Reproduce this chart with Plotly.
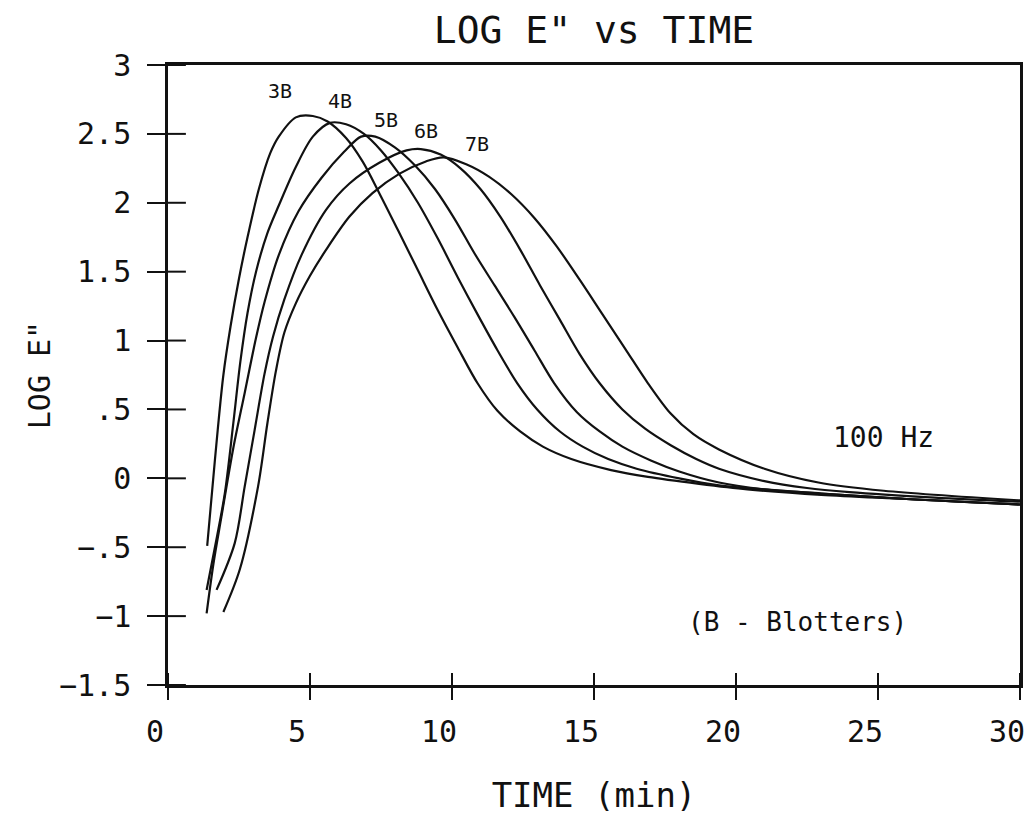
import plotly.graph_objects as go

# ---- data: log E'' (100 Hz) against time for 3..7 blotters ----
t_3b = [1.38, 1.55, 1.75, 1.95, 2.2, 2.5, 2.8, 3.2, 3.6, 3.9, 4.5, 5.1, 5.62, 6.27, 6.85, 7.44,
        8.1, 8.8, 9.5, 10.2, 10.9, 11.6, 12.4, 13.2, 14.2, 15.6, 16.9, 18.7, 20.4, 23, 26, 30]
e_3b = [-0.49, -0.10, 0.35, 0.75, 1.10, 1.45, 1.75, 2.10, 2.36, 2.48, 2.62, 2.63, 2.59, 2.47, 2.30, 2.07,
        1.80, 1.51, 1.22, 0.95, 0.69, 0.49, 0.34, 0.23, 0.14, 0.06, 0.01, -0.04, -0.08, -0.12, -0.15, -0.19]

t_4b = [1.36, 1.7, 2.0, 2.3, 2.55, 2.8, 3.1, 3.5, 3.9, 4.5, 5.1, 5.7, 6.27, 6.9, 7.5, 8.1, 8.8,
        9.5, 10.2, 10.9, 11.6, 12.3, 13.0, 13.8, 14.6, 15.5, 16.5, 18, 19.4, 21, 23, 26, 30]
e_4b = [-0.81, -0.45, -0.11, 0.40, 0.85, 1.20, 1.50, 1.78, 1.98, 2.26, 2.48, 2.58, 2.57, 2.50, 2.38, 2.22, 2.00,
        1.74, 1.46, 1.19, 0.93, 0.69, 0.50, 0.34, 0.23, 0.14, 0.07, 0.0, -0.05, -0.08, -0.11, -0.15, -0.19]

t_5b = [1.36, 1.6, 1.88, 2.3, 2.7, 3.1, 3.4, 3.9, 4.6, 5.4, 6.2, 6.8, 7.3, 8.0, 8.7, 9.4, 10.1,
        10.8, 11.5, 12.2, 12.9, 13.6, 14.4, 15.2, 16.0, 17.0, 18.0, 19.4, 21, 23, 26, 30]
e_5b = [-0.98, -0.62, -0.28, 0.22, 0.62, 1.02, 1.28, 1.62, 1.94, 2.18, 2.37, 2.48, 2.48, 2.40, 2.27, 2.10, 1.88,
        1.63, 1.40, 1.17, 0.93, 0.69, 0.48, 0.34, 0.23, 0.13, 0.05, -0.03, -0.08, -0.11, -0.15, -0.19]

t_6b = [1.71, 2.35, 2.7, 3.05, 3.4, 3.7, 4.1, 4.7, 5.57, 6.39, 7.44, 8.4, 8.9, 9.6, 10.3, 11.0, 11.7,
        12.4, 13.1, 13.8, 14.5, 15.2, 16.0, 16.8, 17.7, 18.6, 19.4, 21, 22.5, 24, 27, 30]
e_6b = [-0.81, -0.47, -0.06, 0.35, 0.76, 1.03, 1.30, 1.62, 1.95, 2.14, 2.29, 2.38, 2.39, 2.35, 2.25, 2.10, 1.90,
        1.66, 1.40, 1.15, 0.90, 0.69, 0.50, 0.36, 0.24, 0.14, 0.07, -0.02, -0.07, -0.10, -0.14, -0.17]

t_7b = [1.95, 2.53, 3.17, 3.5, 3.8, 4.1, 4.5, 5.0, 5.57, 6.39, 7.2, 8.14, 9.08, 9.7, 10.5, 11.3, 12.1,
        12.9, 13.7, 14.5, 15.3, 16.1, 16.9, 17.7, 18.5, 19.4, 21, 22.9, 25.2, 30]
e_7b = [-0.97, -0.66, -0.06, 0.40, 0.78, 1.06, 1.27, 1.47, 1.66, 1.90, 2.07, 2.21, 2.30, 2.33, 2.28, 2.19, 2.06,
        1.89, 1.68, 1.44, 1.19, 0.94, 0.69, 0.47, 0.32, 0.21, 0.07, -0.03, -0.09, -0.16]

series_names = ["3B", "4B", "5B", "6B", "7B"]
series_t = [t_3b, t_4b, t_5b, t_6b, t_7b]
series_e = [e_3b, e_4b, e_5b, e_6b, e_7b]

# curve labels placed above each peak (time, log E'')
label_t = [3.93, 6.04, 7.68, 9.09, 10.88]
label_e = [2.81, 2.74, 2.60, 2.52, 2.43]

x_ticks = [0, 5, 10, 15, 20, 25, 30]
y_ticks = [3, 2.5, 2, 1.5, 1, 0.5, 0, -0.5, -1, -1.5]
y_tick_text = ["3", "2.5", "2", "1.5", "1", ".5", "0", "\u2212.5", "\u22121", "\u22121.5"]

X_RANGE = [0, 30]
Y_RANGE = [-1.5, 3]

INK = "#111111"
FONT = "DejaVu Sans Mono"
W, H = 1034, 819
MARGIN = dict(l=168, r=9, t=65, b=134)
PLOT_W = W - MARGIN["l"] - MARGIN["r"]
PLOT_H = H - MARGIN["t"] - MARGIN["b"]
X_TICK_LEN = 12   # px
Y_TICK_LEN = 18   # px

fig = go.Figure()
for name, tt, ee in zip(series_names, series_t, series_e):
    fig.add_trace(go.Scatter(
        x=tt, y=ee, mode="lines", name=name,
        line=dict(color=INK, width=2.2, shape="spline", smoothing=0.9),
        showlegend=False,
    ))

# plotter-style ticks cross the axis: the inner halves are drawn as a line trace
x_in = (X_TICK_LEN / PLOT_H) * (Y_RANGE[1] - Y_RANGE[0])
y_in = (Y_TICK_LEN / PLOT_W) * (X_RANGE[1] - X_RANGE[0])
tx, ty = [], []
for xv in x_ticks:
    tx += [xv, xv, None]
    ty += [Y_RANGE[0], Y_RANGE[0] + x_in, None]
for yv in y_ticks:
    tx += [X_RANGE[0], X_RANGE[0] + y_in, None]
    ty += [yv, yv, None]
fig.add_trace(go.Scatter(x=tx, y=ty, mode="lines", line=dict(color=INK, width=2),
                         showlegend=False, hoverinfo="skip", cliponaxis=False))

for name, lt, le in zip(series_names, label_t, label_e):
    fig.add_annotation(x=lt, y=le, text=name, showarrow=False,
                       font=dict(family=FONT, size=20, color=INK))

fig.add_annotation(x=25.19, y=0.30, text="100 Hz", showarrow=False,
                   font=dict(family=FONT, size=28, color=INK))
fig.add_annotation(x=22.18, y=-1.04, text="(B - Blotters)", showarrow=False,
                   font=dict(family=FONT, size=26, color=INK))

axis_common = dict(showgrid=False, zeroline=False, linecolor=INK, linewidth=2.5,
                   tickcolor=INK, tickwidth=2)

fig.update_layout(
    width=W, height=H,
    margin=MARGIN,
    paper_bgcolor="white", plot_bgcolor="white",
    font=dict(family=FONT, color=INK),
    title=dict(text="LOG E\" vs TIME", x=0.5, xref="paper", y=1 - 30 / H,
               yref="container", xanchor="center", yanchor="middle",
               font=dict(family=FONT, size=38, color=INK)),
    xaxis=dict(range=X_RANGE, tickvals=x_ticks, ticks="outside", ticklen=X_TICK_LEN,
               mirror=True, showline=True, ticklabelstandoff=6,
               ticklabelshift=-13, ticklabeloverflow="allow",
               tickfont=dict(family=FONT, size=30, color=INK),
               title=dict(text="TIME (min)", standoff=36,
                          font=dict(family=FONT, size=34, color=INK)),
               **axis_common),
    yaxis=dict(range=Y_RANGE, tickvals=y_ticks, ticktext=y_tick_text,
               ticks="outside", ticklen=Y_TICK_LEN, mirror=True, showline=True,
               ticklabelstandoff=10,
               tickfont=dict(family=FONT, size=30, color=INK),
               title=dict(text="LOG E\"", standoff=0,
                          font=dict(family=FONT, size=30, color=INK)),
               **axis_common),
)

fig.write_html("out.html")
